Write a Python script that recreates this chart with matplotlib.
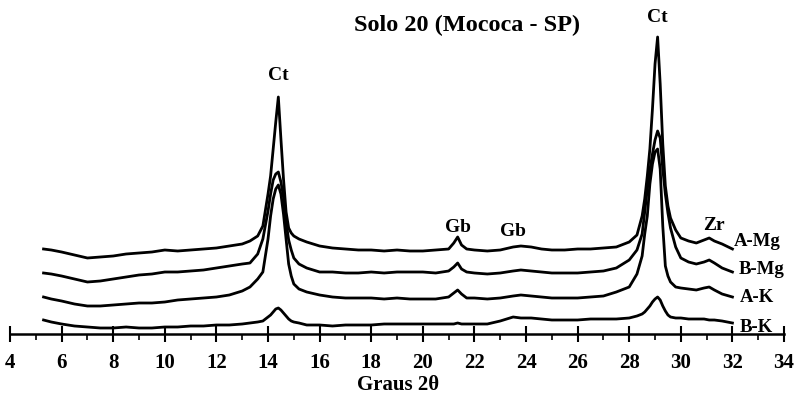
import matplotlib
matplotlib.use("Agg")
import matplotlib.pyplot as plt
from matplotlib.ticker import MultipleLocator

# 2-theta grid (degrees)
two_theta = [5.3, 5.6, 6.0, 6.5, 7.0, 7.5, 8.0, 8.5, 9.0, 9.5, 10.0, 10.5, 11.0, 11.5,
             12.0, 12.5, 13.0, 13.3, 13.6, 13.8, 14.0, 14.1, 14.2, 14.3, 14.4, 14.5,
             14.6, 14.7, 14.8, 14.9, 15.0, 15.2, 15.5, 16.0, 16.5, 17.0, 17.5, 18.0,
             18.5, 19.0, 19.5, 20.0, 20.5, 21.0, 21.2, 21.35, 21.5, 21.7, 22.0, 22.5,
             23.0, 23.5, 23.8, 24.2, 24.6, 25.0, 25.5, 26.0, 26.5, 27.0, 27.5, 28.0,
             28.3, 28.5, 28.6, 28.7, 28.8, 28.9, 29.0, 29.1, 29.2, 29.3, 29.4, 29.5,
             29.6, 29.8, 30.0, 30.3, 30.6, 30.9, 31.1, 31.3, 31.6, 32.0]

# Intensities (offset traces, arbitrary units)
a_mg = [85, 84, 82, 79, 76, 77, 78, 80, 81, 82, 84, 83, 84, 85,
        86, 88, 90, 93, 98, 108, 140, 158, 185, 212, 237, 195,
        155, 122, 106, 101, 98, 95, 92, 88, 86, 85, 84, 84,
        83, 84, 83, 83, 84, 85, 91, 97, 89, 85, 84, 83,
        84, 87, 88, 87, 85, 84, 84, 85, 85, 86, 87, 92,
        99, 118, 135, 158, 185, 225, 270, 297, 250, 190, 148, 128,
        116, 104, 96, 93, 91, 94, 96, 93, 90, 85]

b_mg = [61, 60, 58, 55, 52, 53, 55, 57, 59, 60, 62, 62, 63, 64,
        66, 68, 70, 71, 80, 95, 123, 140, 154, 160, 162, 152,
        137, 112, 94, 84, 76, 70, 66, 62, 62, 61, 61, 62,
        61, 62, 62, 62, 61, 63, 67, 71, 65, 62, 61, 60,
        61, 63, 64, 63, 62, 61, 61, 61, 62, 63, 66, 74,
        84, 100, 122, 145, 164, 180, 194, 203, 196, 165, 140, 121,
        106, 87, 76, 72, 70, 72, 74, 71, 66, 62]

a_k = [37, 35, 33, 30, 28, 28, 29, 30, 31, 31, 32, 34, 35, 36,
       37, 39, 43, 47, 55, 62, 95, 118, 135, 145, 149, 140,
       120, 95, 70, 58, 50, 45, 42, 39, 37, 36, 36, 36,
       35, 36, 35, 35, 35, 37, 41, 44, 40, 36, 36, 35,
       36, 38, 39, 38, 37, 36, 36, 36, 37, 38, 42, 47,
       60, 78, 100, 118, 150, 170, 182, 185, 165, 108, 68, 58,
       52, 47, 46, 45, 44, 46, 47, 44, 40, 37]

b_k = [14, 12, 10, 8, 7, 6, 6, 7, 6, 6, 7, 7, 8, 8,
       9, 9, 10, 11, 12, 13, 17, 19, 22, 25, 26, 24,
       21, 18, 15, 13, 12, 11, 9, 9, 8, 9, 9, 9,
       10, 10, 10, 10, 10, 10, 10, 11, 10, 10, 10, 10,
       13, 17, 16, 16, 15, 14, 14, 14, 15, 15, 15, 16,
       18, 20, 22, 25, 28, 32, 35, 37, 34, 28, 23, 19,
       17, 16, 16, 15, 15, 15, 14, 14, 13, 11]

series_names = ["A-Mg", "B-Mg", "A-K", "B-K"]
series_values = [a_mg, b_mg, a_k, b_k]
name_x = [32.05, 32.25, 32.3, 32.3]
name_y = [92, 64, 37, 7]

peak_labels = ["Ct", "Gb", "Gb", "Ct", "Zr"]
peak_x = [14.4, 21.35, 23.5, 29.1, 31.3]
peak_y = [259, 106, 102, 316, 109]

xticks = list(range(4, 35, 2))

serif = ["Liberation Serif", "DejaVu Serif"]

fig = plt.figure(figsize=(7.99, 4.0), dpi=100)
ax = fig.add_axes([0, 0, 1, 1])
ax.set_xlim(3.612, 34.58)
ax.set_ylim(-66, 334)

for vals in series_values:
    ax.plot(two_theta, vals, color="black", lw=2.0, solid_joinstyle="round")
for name, nx, ny in zip(series_names, name_x, name_y):
    ax.text(nx, ny, name, fontsize=13.5, fontweight="bold",
            family=serif, ha="left", va="center")

for lab, px, py in zip(peak_labels, peak_x, peak_y):
    ax.text(px, py, lab, fontsize=14, fontweight="bold", family=serif,
            ha="center", va="center")

for s in ["top", "right", "left"]:
    ax.spines[s].set_visible(False)
ax.spines["bottom"].set_position(("data", 0))
ax.spines["bottom"].set_bounds(4, 34)
ax.spines["bottom"].set_linewidth(1.8)
ax.set_yticks([])
ax.set_xticks(xticks)
ax.set_xticklabels([str(t) for t in xticks], fontsize=15, fontweight="bold",
                   family=serif)
ax.xaxis.set_minor_locator(MultipleLocator(1))
ax.tick_params(axis="x", which="major", direction="inout", length=12, width=1.5,
               pad=8)
ax.tick_params(axis="x", which="minor", direction="out", length=4, width=1.2)

fig.text(467 / 799, 1 - 25 / 400, "Solo 20 (Mococa - SP)", fontsize=17.5,
         fontweight="bold", family=serif, ha="center", va="center")
fig.text(398 / 799, 1 - 385 / 400, "Graus 2θ", fontsize=15, fontweight="bold",
         family=serif, ha="center", va="center")

fig.savefig("out.png", dpi=100)
